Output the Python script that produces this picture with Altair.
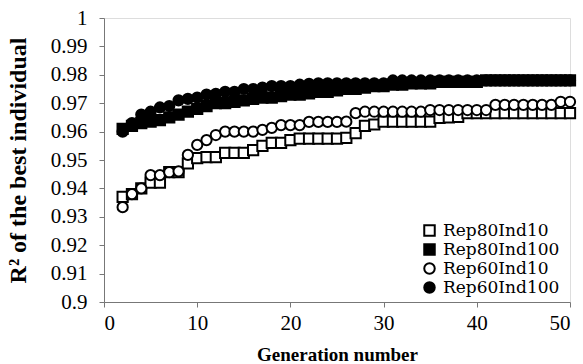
import altair as alt
import pandas as pd

generations = list(range(2, 51))

rep80ind10 = [0.937, 0.938, 0.940, 0.942, 0.942, 0.9457, 0.9457, 0.9488, 0.9507, 0.951,
              0.951, 0.9525, 0.9525, 0.9525, 0.9535, 0.955, 0.956, 0.956, 0.957, 0.9575,
              0.9575, 0.9575, 0.9575, 0.9575, 0.9578, 0.9595, 0.962, 0.9625, 0.9635, 0.9635,
              0.9635, 0.9635, 0.9635, 0.9635, 0.9648, 0.965, 0.9652, 0.9665, 0.9665, 0.9665,
              0.9665, 0.9665, 0.9665, 0.9665, 0.9665, 0.9665, 0.9665, 0.9665, 0.9665]

rep80ind100 = [0.961, 0.962, 0.963, 0.9635, 0.964, 0.965, 0.966, 0.967, 0.968, 0.969,
               0.970, 0.970, 0.9705, 0.971, 0.9715, 0.972, 0.972, 0.9725, 0.973, 0.973,
               0.9735, 0.974, 0.974, 0.9745, 0.975, 0.975, 0.9755, 0.976, 0.976, 0.9765,
               0.9765, 0.977, 0.977, 0.977, 0.9775, 0.9775, 0.9775, 0.9775, 0.9775, 0.978,
               0.978, 0.978, 0.978, 0.978, 0.978, 0.978, 0.978, 0.978, 0.978]

rep60ind10 = [0.9334, 0.938, 0.940, 0.9447, 0.9447, 0.9457, 0.946, 0.9518, 0.9553, 0.957,
              0.9588, 0.960, 0.960, 0.960, 0.960, 0.9606, 0.9613, 0.9623, 0.9623, 0.9623,
              0.9634, 0.9634, 0.9634, 0.9634, 0.9635, 0.9665, 0.967, 0.967, 0.967, 0.967,
              0.967, 0.967, 0.967, 0.9676, 0.9676, 0.9676, 0.9676, 0.9676, 0.9676, 0.9676,
              0.9694, 0.9694, 0.9694, 0.9694, 0.9694, 0.9694, 0.9694, 0.9705, 0.9705]

rep60ind100 = [0.960, 0.963, 0.966, 0.967, 0.9685, 0.969, 0.971, 0.9715, 0.972, 0.973,
               0.9733, 0.974, 0.974, 0.975, 0.975, 0.9755, 0.976, 0.976, 0.976, 0.9765,
               0.9768, 0.977, 0.977, 0.977, 0.977, 0.977, 0.977, 0.977, 0.977, 0.978,
               0.978, 0.978, 0.978, 0.978, 0.978, 0.978, 0.978, 0.978, 0.978, 0.978,
               0.978, 0.978, 0.978, 0.978, 0.978, 0.978, 0.978, 0.978, 0.978]

series_names = ["Rep80Ind10", "Rep80Ind100", "Rep60Ind10", "Rep60Ind100"]
series_values = [rep80ind10, rep80ind100, rep60ind10, rep60ind100]
series_shapes = ["square", "square", "circle", "circle"]
series_fills = ["white", "black", "white", "black"]

x_ticks = [0, 10, 20, 30, 40, 50]
y_ticks = [0.9, 0.91, 0.92, 0.93, 0.94, 0.95, 0.96, 0.97, 0.98, 0.99, 1.0]

rows = []
for order, (name, vals) in enumerate(zip(series_names, series_values)):
    for g, v in zip(generations, vals):
        rows.append({"series": name, "generation": g, "r2": v, "order": order})
df = pd.DataFrame(rows)

FONT = "Liberation Serif"

legend = alt.Legend(
    title=None, orient="none", legendX=317, legendY=204,
    labelFont="DejaVu Serif", labelFontSize=17, labelColor="black",
    symbolStrokeWidth=2, symbolSize=110, rowPadding=0, labelOffset=5,
)

chart = alt.Chart(df).mark_point(filled=True, stroke="black", strokeWidth=2, size=105, opacity=1).encode(
    x=alt.X("generation:Q", scale=alt.Scale(domain=[0, 50], nice=False),
            axis=alt.Axis(values=x_ticks, title="Generation number", grid=False,
                          labelFont=FONT, labelFontSize=21, labelColor="black", labelPadding=5,
                          titleFont=FONT, titleFontSize=19, titleFontWeight="bold", titleColor="black",
                          titlePadding=12, domainColor="#777", tickColor="#777", tickSize=5)),
    y=alt.Y("r2:Q", scale=alt.Scale(domain=[0.9, 1.0], nice=False, zero=False),
            axis=alt.Axis(values=y_ticks, title="R² of the best  individual", grid=False,
                          labelFont=FONT, labelFontSize=21, labelColor="black", labelPadding=12,
                          labelExpr="format(datum.value, '.2~f')",
                          titleFont=FONT, titleFontSize=24, titleFontWeight="bold", titleColor="black",
                          titlePadding=20, domainColor="#777", tickColor="#777", tickSize=5)),
    shape=alt.Shape("series:N", scale=alt.Scale(domain=series_names, range=series_shapes), legend=legend),
    fill=alt.Fill("series:N", scale=alt.Scale(domain=series_names, range=series_fills), legend=legend),
    order=alt.Order("order:Q"),
).properties(
    width=466, height=284,
    autosize=alt.AutoSizeParams(type="none"),
    padding={"left": 104, "top": 18, "right": 13, "bottom": 62},
).configure_view(stroke=None).configure(background="white")

chart.save("out.html", embed_options={"renderer": "svg", "actions": False})
